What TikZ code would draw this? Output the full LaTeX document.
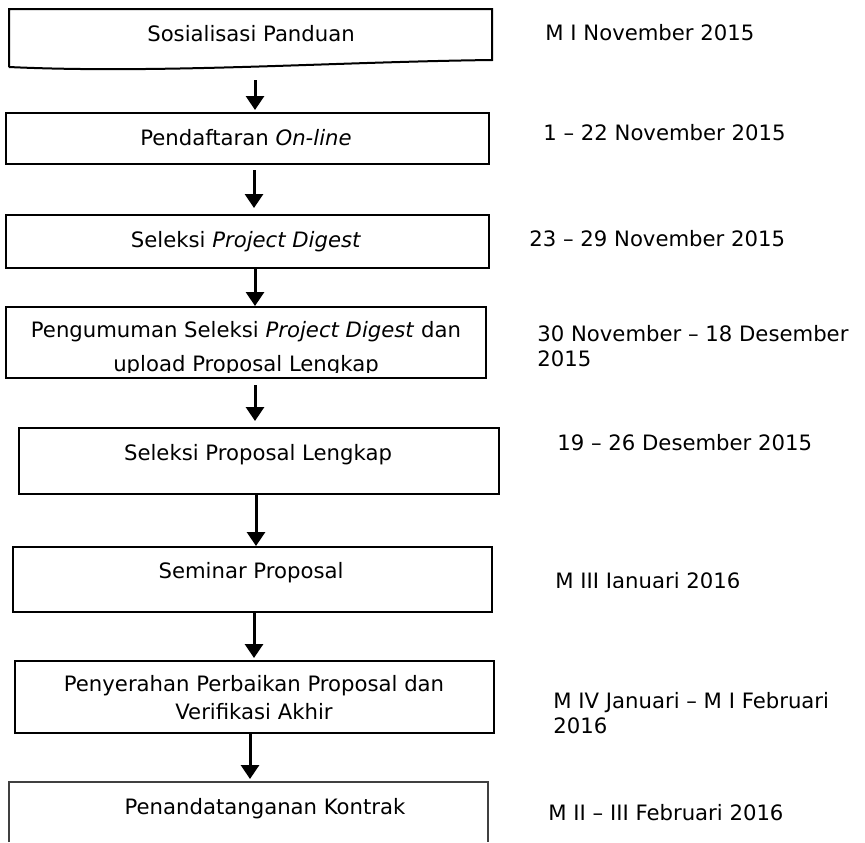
\documentclass[tikz,border=0pt]{standalone}
\usepackage{fontspec}
\setmainfont{DejaVu Sans}
\usetikzlibrary{arrows.meta,positioning}

\begin{document}
\begin{tikzpicture}[x=0.5pt,y=-0.5pt,
  stepbox/.style={draw, line width=1pt, inner sep=0pt, anchor=north west},
  steptext/.style={font=\fontsize{10.6}{13.9}\selectfont, align=center, inner sep=0pt, anchor=base},
  datetext/.style={font=\fontsize{10.6}{12.5}\selectfont, align=left, anchor=base west, inner sep=0pt},
  flow/.style={-{Triangle[width=9pt,length=7pt]}, line width=1.5pt}]

\useasboundingbox (0,0) rectangle (865,842);

% langkah
\draw[line width=1pt] (9,67) -- (9,9) -- (492,9) -- (492,60) .. controls (330,62) and (160,74) .. (9,67);
\node[steptext] (sosial) at (251,41.5) {Sosialisasi Panduan};
\coordinate (sosialEnd) at (255,80);

\node[stepbox, minimum width=241.5pt, minimum height=25.5pt] (daftar) at (5,112) {};
\node[steptext] (daftarText) at (246,145.5) {Pendaftaran \textit{On-line}};

\node[stepbox, minimum width=241.5pt, minimum height=26.5pt] (digest) at (5,214) {};
\node[steptext] (digestText) at (246,247.5) {Seleksi \textit{Project Digest}};

\node[stepbox, minimum width=240pt, minimum height=35.5pt] (umum) at (5,306) {};
\begin{scope}
\clip (5,306) rectangle (485,372.5);
\node[steptext, font=\fontsize{10.6}{17}\selectfont] (umumText) at (246,371.5) {Pengumuman Seleksi \textit{Project Digest} dan\\upload Proposal Lengkap};
\end{scope}

\node[stepbox, minimum width=240pt, minimum height=33pt] (lengkap) at (18,427) {};
\node[steptext] (lengkapText) at (258,460) {Seleksi Proposal Lengkap};

\node[stepbox, minimum width=239.5pt, minimum height=32.5pt] (seminar) at (12,546) {};
\node[steptext] (seminarText) at (251,578.3) {Seminar Proposal};

\node[stepbox, minimum width=239.5pt, minimum height=36pt] (serah) at (14,660) {};
\node[steptext] (serahText) at (254,719.3) {Penyerahan Perbaikan Proposal dan\\Verifikasi Akhir};

\draw[black!75, line width=0.6pt] (9,842) -- (9,782) -- (488,782) -- (488,842);
\node[steptext] (kontrak) at (265,814.3) {Penandatanganan Kontrak};
\coordinate (kontrakTop) at (250,782);

% panah
\draw[flow, shorten >=1pt] (sosialEnd) -- (daftar.north -| sosialEnd);
\draw[flow, shorten <=2.5pt, shorten >=3pt] (daftar.south -| 254,0) -- (digest.north -| 254,0);
\draw[flow] (digest.south -| 255,0) -- (umum.north -| 255,0);
\draw[flow, shorten <=3pt, shorten >=3pt] (umum.south -| 255,0) -- (lengkap.north -| 255,0);
\draw[flow] (lengkap.south -| 256,0) -- (seminar.north -| 256,0);
\draw[flow, shorten >=1pt] (seminar.south -| 254,0) -- (serah.north -| 254,0);
\draw[flow, shorten >=1.5pt] (serah.south -| 250,0) -- (kontrakTop);

% tanggal
\node[datetext] (tgl1) at (545,40) {M I November 2015};
\node[datetext] (tgl2) at (543,140) {1 – 22 November 2015};
\node[datetext] (tgl3) at (529,246) {23 – 29 November 2015};
\node[datetext] (tgl4) at (537,366.7) {30 November – 18 Desember\\2015};
\node[datetext] (tgl5) at (557,450) {19 – 26 Desember 2015};
\begin{scope}
\clip (500,560) rectangle (865,587.3);
\node[datetext] (tgl6) at (555,588) {M III Januari 2016};
\end{scope}
\node[datetext] (tgl7) at (553,733.3) {M IV Januari – M I Februari\\2016};
\node[datetext] (tgl8) at (548,820.7) {M II – III Februari 2016};

\end{tikzpicture}
\end{document}
